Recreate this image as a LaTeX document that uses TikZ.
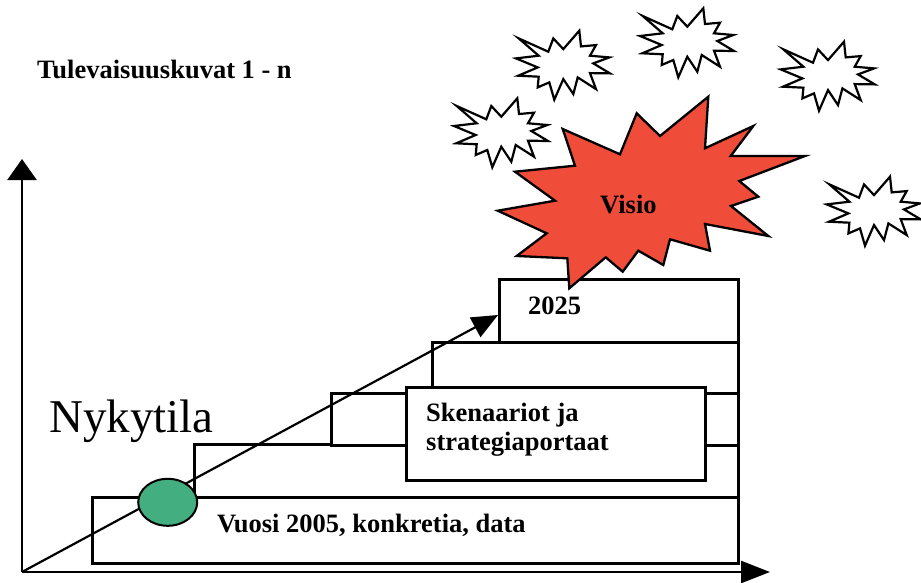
\documentclass[tikz,border=0pt]{standalone}
\usepackage{fontspec}
\setmainfont{Liberation Serif}
\usepackage{tikz}
\usetikzlibrary{shapes}
\usetikzlibrary{positioning}
\usetikzlibrary{arrows.meta}
\definecolor{visiored}{RGB}{239,76,58}
\definecolor{nowgreen}{RGB}{67,174,127}
\tikzset{
    stepbox/.style = {rectangle, line width=2.5pt, draw=black, fill=white, anchor=north west, inner sep=0pt},
    boldtext/.style = {inner sep=0pt, font=\fontsize{26.5}{29.3}\selectfont\bfseries},
    bigtext/.style = {inner sep=0pt, font=\fontsize{47}{50}\selectfont},
    axisy/.style = {-{Triangle[length=21pt,width=29pt]}, line width=2.5pt},
    axisx/.style = {-{Triangle[length=29pt,width=22pt]}, line width=2.5pt},
    trend/.style = {-{Triangle[length=26pt,width=22pt]}, line width=2.2pt},
    nowspot/.style = {ellipse, line width=2pt, draw=black, fill=nowgreen, minimum width=59pt, minimum height=47pt, inner sep=0pt},
    burst/.style = {line width=2.2pt, draw=black, fill=white, line join=miter},
    visioburst/.style = {line width=2.3pt, draw=black, fill=visiored, line join=miter}
}
% small white burst, top left corner at (#1,#2)
\newcommand{\smallburst}[2]{%
  \draw[burst, shift={(#1,#2)}] (2.7,8) -- (32.3,21.3) -- (37.3,8) -- (47.3,18.7) -- (63.3,0.3)
    -- (65,16) -- (80,14.7) -- (74,25.3) -- (93.3,27) -- (77.3,33) -- (94,43) -- (74,42.7)
    -- (80,58.7) -- (61.7,47) -- (57.3,63.7) -- (47.3,48.7) -- (38.3,69.3) -- (33.3,52)
    -- (21.7,57) -- (22.7,46.3) -- (2.3,45.3) -- (21.7,37) -- (0,28) -- (22.7,25.3) -- cycle;}

\begin{document}
\begin{tikzpicture}[x=1pt,y=-1pt]
  \useasboundingbox (0,0) rectangle (921,583);

  % future images
  \smallburst{516}{30.4}
  \smallburst{454}{98}
  \smallburst{640}{8}
  \smallburst{780.7}{41.4}
  \smallburst{826.7}{176.4}

  % axes
  \coordinate (origin) at (22,572);
  \coordinate (ytip) at (22,159);
  \coordinate (xtip) at (770,572);
  \draw[axisy] (origin) -- (ytip);
  \draw[axisx] (origin) -- (xtip);

  % stairs
  \node[stepbox, minimum width=646pt, minimum height=66pt] (base) at (91,496) {};
  \node[stepbox, minimum width=544pt, minimum height=53pt] (stepa) at (193,443) {};
  \node[stepbox, minimum width=407pt, minimum height=52pt] (stepb) at (330,392) {};
  \node[stepbox, minimum width=306pt, minimum height=51pt] (stepc) at (431,341) {};
  \node[stepbox, minimum width=239pt, minimum height=63pt] (top) at (498,278) {};
  \node[stepbox, minimum width=299pt, minimum height=93pt] (scen) at (405,386) {};

  % path to the vision
  \coordinate (goal) at (498,315);
  \draw[trend] (origin) -- (goal);
  \node[nowspot] (now) at (167.7,502.3) {};

  % vision
  \draw[visioburst] (708.3,96.7) -- (705,148.3) -- (753.3,126) -- (730.7,156) -- (805,156)
    -- (739.3,181) -- (758.3,196.7) -- (731,206) -- (768.3,236) -- (705,224) -- (710,250.7)
    -- (670,239.3) -- (663.3,265) -- (638.3,250.7) -- (622.7,271.7) -- (605.7,257.3)
    -- (569.3,288.3) -- (567.3,258.3) -- (516.7,256) -- (546.7,233.3) -- (497.7,210.7)
    -- (555,200.7) -- (515,171.7) -- (575,165.7) -- (562.7,129) -- (620,154.3)
    -- (636.7,113.3) -- (660,136) -- cycle;

  % texts
  \node[boldtext, anchor=base west] (title) at (37,79) {Tulevaisuuskuvat 1 - n};
  \node[bigtext, anchor=base west] (nyky) at (49,432) {Nykytila};
  \node[boldtext, anchor=base west] (visio) at (600,213) {Visio};
  \node[boldtext, anchor=base west] (year) at (528,314) {2025};
  \node[boldtext, anchor=north west, align=left] (scentext) at (426,403) {Skenaariot ja\\strategiaportaat};
  \node[boldtext, anchor=base west] (vuosi) at (217,532) {Vuosi 2005, konkretia, data};
\end{tikzpicture}
\end{document}
